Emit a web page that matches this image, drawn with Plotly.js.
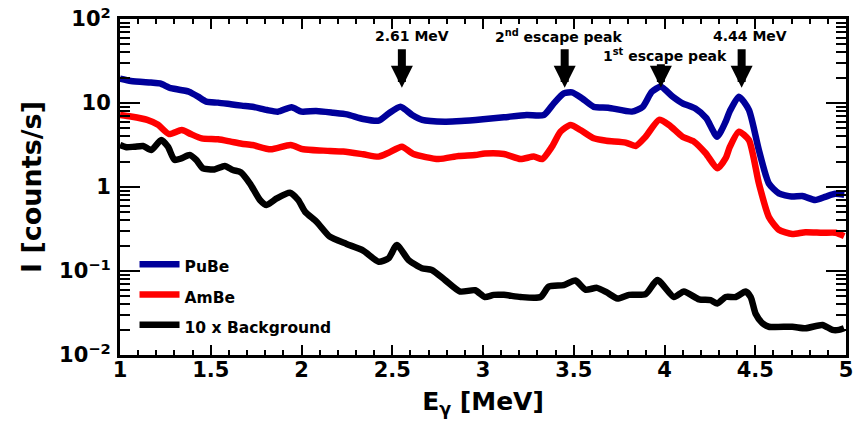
<!DOCTYPE html>
<html>
<head>
<meta charset="utf-8">
<script src="https://cdn.plot.ly/plotly-3.0.1.min.js"></script>
<style>html,body{margin:0;padding:0;background:#fff;}#chart{width:856px;height:422px;}</style>
</head>
<body>
<div id="chart"></div>
<script>
// Energy in MeV, intensity in counts/s
const pubeE = [1.0,1.06,1.17,1.22,1.28,1.36,1.38,1.43,1.475,1.54,1.61,1.67,1.73,1.81,1.87,1.945,2.0,2.08,2.175,2.25,2.34,2.425,2.48,2.545,2.61,2.665,2.79,2.88,3.0,3.115,3.24,3.335,3.39,3.445,3.49,3.545,3.61,3.69,3.82,3.88,3.93,3.98,4.045,4.1,4.17,4.23,4.29,4.337,4.36,4.41,4.465,4.52,4.575,4.63,4.70,4.76,4.83,4.89,4.94,4.99];
const pubeI = [19.5,18.3,17.5,17.1,15.0,14.0,13.6,11.9,10.4,10.1,9.66,9.3,9.03,8.25,7.88,8.9,7.9,8.04,7.67,7.33,6.45,6.17,7.5,9.0,7.2,6.3,6.0,6.1,6.4,6.76,7.2,7.2,9.9,13.0,13.4,11.4,9.0,8.8,7.9,9.0,13.6,15.6,11.9,9.9,8.6,6.6,3.97,6.0,8.0,11.9,8.3,2.75,1.1,0.84,0.77,0.78,0.70,0.77,0.83,0.81];

const ambeE = [1.0,1.06,1.15,1.21,1.27,1.34,1.39,1.45,1.54,1.61,1.67,1.73,1.83,1.94,2.01,2.12,2.23,2.34,2.425,2.48,2.553,2.617,2.755,2.865,2.957,3.01,3.115,3.207,3.28,3.326,3.38,3.427,3.482,3.537,3.61,3.68,3.786,3.841,3.896,3.97,4.025,4.099,4.162,4.227,4.291,4.337,4.36,4.41,4.465,4.52,4.575,4.63,4.704,4.777,4.87,4.943,4.99];
const ambeI = [7.2,6.9,6.3,5.5,4.27,4.77,4.27,3.8,3.7,3.47,3.28,3.16,2.81,3.16,2.81,2.71,2.64,2.45,2.3,2.56,3.02,2.47,2.15,2.34,2.4,2.5,2.47,2.15,2.3,2.15,3.02,4.56,5.47,4.77,3.8,3.55,3.38,3.08,3.97,6.3,5.47,3.97,3.47,2.52,1.67,2.2,3.0,4.56,3.63,1.1,0.44,0.31,0.275,0.29,0.285,0.285,0.26];

const bkgE = [1.0,1.035,1.08,1.127,1.172,1.227,1.264,1.30,1.338,1.384,1.42,1.457,1.52,1.577,1.622,1.665,1.716,1.771,1.808,1.863,1.936,1.982,2.019,2.083,2.156,2.248,2.34,2.425,2.48,2.525,2.59,2.663,2.718,2.791,2.874,2.957,3.01,3.059,3.115,3.207,3.317,3.362,3.445,3.509,3.564,3.628,3.68,3.741,3.805,3.896,3.961,4.052,4.107,4.19,4.254,4.291,4.337,4.392,4.447,4.475,4.502,4.539,4.575,4.704,4.777,4.87,4.925,4.961,4.989];
const bkgI = [3.16,2.97,3.02,3.08,2.75,3.63,3.02,2.1,2.19,2.4,2.1,1.67,1.62,1.78,1.59,1.5,1.1,0.70,0.61,0.73,0.855,0.70,0.51,0.386,0.256,0.21,0.175,0.129,0.142,0.204,0.135,0.108,0.103,0.078,0.057,0.059,0.049,0.052,0.052,0.049,0.049,0.065,0.068,0.077,0.060,0.063,0.056,0.047,0.052,0.053,0.078,0.049,0.057,0.046,0.045,0.041,0.049,0.049,0.057,0.049,0.031,0.024,0.0217,0.0217,0.0208,0.0228,0.0199,0.0199,0.0208];

const seriesNames = ["PuBe", "AmBe", "10 x Background"];
const yTickVals = [0.01, 0.1, 1, 10, 100];
const yTickText = ["10<sup>\u22122</sup>", "10<sup>\u22121</sup>", "1", "10", "10<sup>2</sup>"];
const peakLabels = ["2.61 MeV", "2<sup>nd</sup> escape peak", "1<sup>st</sup> escape peak", "4.44 MeV"];
const peakE = [2.553, 3.45, 3.98, 4.425];

const FONT = "DejaVu Sans, Verdana, sans-serif";
const lineW = 6.5;
const colors = ["#00009a", "#ff0000", "#000000"];
const seriesE = [pubeE, ambeE, bkgE];
const seriesI = [pubeI, ambeI, bkgI];
const traces = seriesNames.map((n, i) => ({
  type: "scatter", mode: "lines", hoverinfo: "skip",
  x: seriesE[i], y: seriesI[i],
  name: '<span style="font-size:15.5px">' + n + '</span>',
  line: {color: colors[i], width: lineW, shape: "spline", smoothing: 0.6}
}));

const annotations = [];
const arrowTop = [-40, -40, -25, -40];
peakE.forEach((e, i) => {
  annotations.push({x: e, y: Math.log10(15.2), xref: "x", yref: "y", text: "", showarrow: true,
    arrowhead: 2, arrowsize: 0.55, arrowwidth: 8, arrowcolor: "#000", ax: 0, ay: arrowTop[i], standoff: 0});
});
const labelX = [2.61, 3.42, 4.0, 4.47];
const labelY = [36, 36, 55, 36];
peakLabels.forEach((t, i) => {
  annotations.push({x: labelX[i], xref: "x", y: 1 - (labelY[i] - 19) / 336, yref: "paper", text: t,
    showarrow: false, font: {family: FONT, size: 14, color: "#000", weight: 700}, xanchor: "center", yanchor: "middle"});
});

const layout = {
  width: 856, height: 422,
  margin: {l: 120, r: 10, t: 19, b: 67},
  paper_bgcolor: "#fff", plot_bgcolor: "#fff",
  font: {family: FONT, color: "#000"},
  showlegend: true,
  legend: {x: 0.02, y: 0.33, xanchor: "left", yanchor: "top", bgcolor: "rgba(0,0,0,0)",
    font: {family: FONT, size: 21, weight: 700}, tracegroupgap: 0, itemwidth: 40},
  xaxis: {
    type: "linear", range: [1, 5], dtick: 0.5, tick0: 1,
    showgrid: false, zeroline: false, showline: true, linewidth: 3, linecolor: "#000", mirror: "allticks",
    ticks: "inside", ticklen: 10, tickwidth: 2, tickcolor: "#000",
    minor: {dtick: 0.1, ticks: "inside", ticklen: 5, tickwidth: 2, tickcolor: "#000", showgrid: false},
    tickfont: {family: FONT, size: 21, weight: 700}, ticklabelstandoff: -6,
    title: {text: "E<sub>\u03b3</sub> [MeV]", font: {family: FONT, size: 25, weight: 700}, standoff: 12}
  },
  yaxis: {
    type: "log", range: [-2, 2], tickvals: yTickVals, ticktext: yTickText,
    showgrid: false, zeroline: false, showline: true, linewidth: 3, linecolor: "#000", mirror: "allticks",
    ticks: "inside", ticklen: 20, tickwidth: 2, tickcolor: "#000",
    minor: {dtick: "D1", ticks: "inside", ticklen: 10, tickwidth: 2, tickcolor: "#000", showgrid: false},
    tickfont: {family: FONT, size: 21, weight: 700}, ticklabelstandoff: 2,
    title: {text: "I [counts/s]", font: {family: FONT, size: 27, weight: 700}, standoff: 10}
  },
  annotations: annotations
};

Plotly.newPlot("chart", traces, layout, {displayModeBar: false, staticPlot: true});
</script>
</body>
</html>
